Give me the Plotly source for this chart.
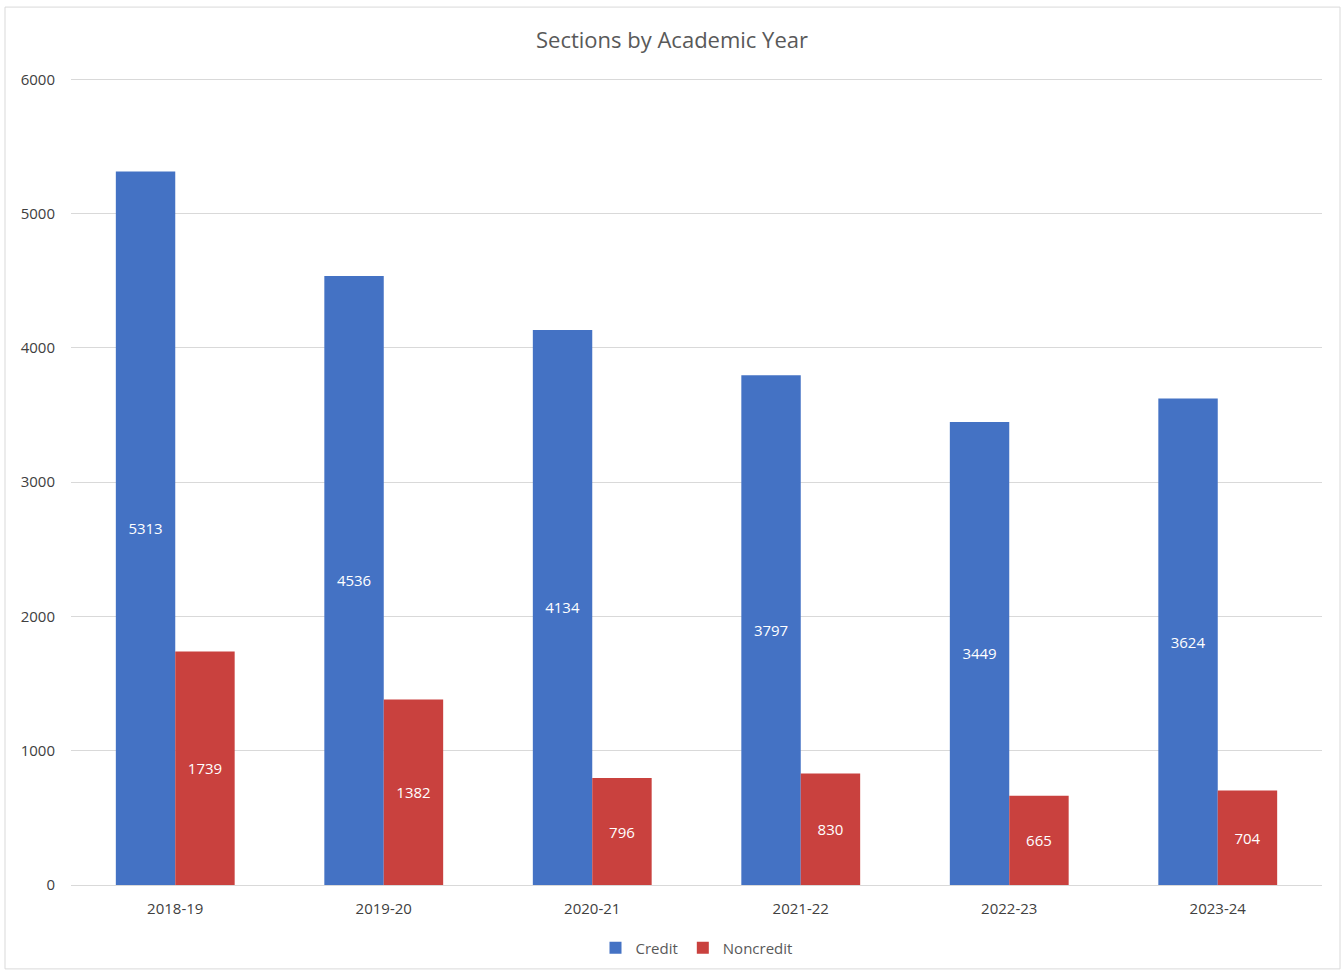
import plotly.graph_objects as go

years = ["2018-19", "2019-20", "2020-21", "2021-22", "2022-23", "2023-24"]
credit = [5313, 4536, 4134, 3797, 3449, 3624]
noncredit = [1739, 1382, 796, 830, 665, 704]

W, H = 1344, 975
L, R, T, B = 71, 22, 78, 89
pw, ph = W - L - R, H - T - B

def px_x(p):
    return (p - L) / pw

def px_y(p):
    return (H - B - p) / ph

fig = go.Figure()
fig.add_trace(go.Bar(
    name="Credit", x=years, y=credit, marker_color="#4472C4",
    marker_line_width=0,
    text=[str(v) for v in credit], textposition="inside",
    insidetextanchor="middle",
    textfont=dict(color="white", size=15, family="Open Sans"),
))
fig.add_trace(go.Bar(
    name="Noncredit", x=years, y=noncredit, marker_color="#C9413E",
    marker_line_width=0,
    text=[str(v) for v in noncredit], textposition="inside",
    insidetextanchor="middle",
    textfont=dict(color="white", size=15, family="Open Sans"),
))

fig.update_layout(
    width=W, height=H,
    margin=dict(l=L, r=R, t=T, b=B),
    paper_bgcolor="white", plot_bgcolor="white",
    barmode="group", bargap=0.43, bargroupgap=0,
    font=dict(family="Open Sans", color="#404040", size=15),
    title=dict(text="Sections by Academic Year", x=0.5, xanchor="center",
               y=1 - 40 / H, yanchor="middle",
               font=dict(size=22, color="#595959", family="Open Sans")),
    legend=dict(orientation="h", x=0.5, xanchor="center",
                y=px_y(948), yanchor="middle",
                font=dict(size=15, color="#595959"),
                itemwidth=30, traceorder="normal"),
    showlegend=True,
)
fig.update_xaxes(showgrid=False, showline=True, linecolor="#D9D9D9",
                 linewidth=1, ticks="", ticklabelstandoff=10,
                 tickfont=dict(size=15, color="#404040"))
fig.update_yaxes(range=[0, 6010], tickvals=[0, 1000, 2000, 3000, 4000, 5000, 6000],
                 showgrid=True,
                 gridcolor="#D9D9D9", gridwidth=1, zeroline=False,
                 showline=False, ticks="", ticklabelstandoff=15,
                 tickfont=dict(size=15, color="#404040"))

fig.add_shape(type="rect", xref="paper", yref="paper",
              x0=px_x(5), x1=px_x(1340), y0=px_y(970), y1=px_y(7),
              line=dict(color="#D9D9D9", width=1), fillcolor="rgba(0,0,0,0)",
              layer="below")

fig.write_html("out.html")
